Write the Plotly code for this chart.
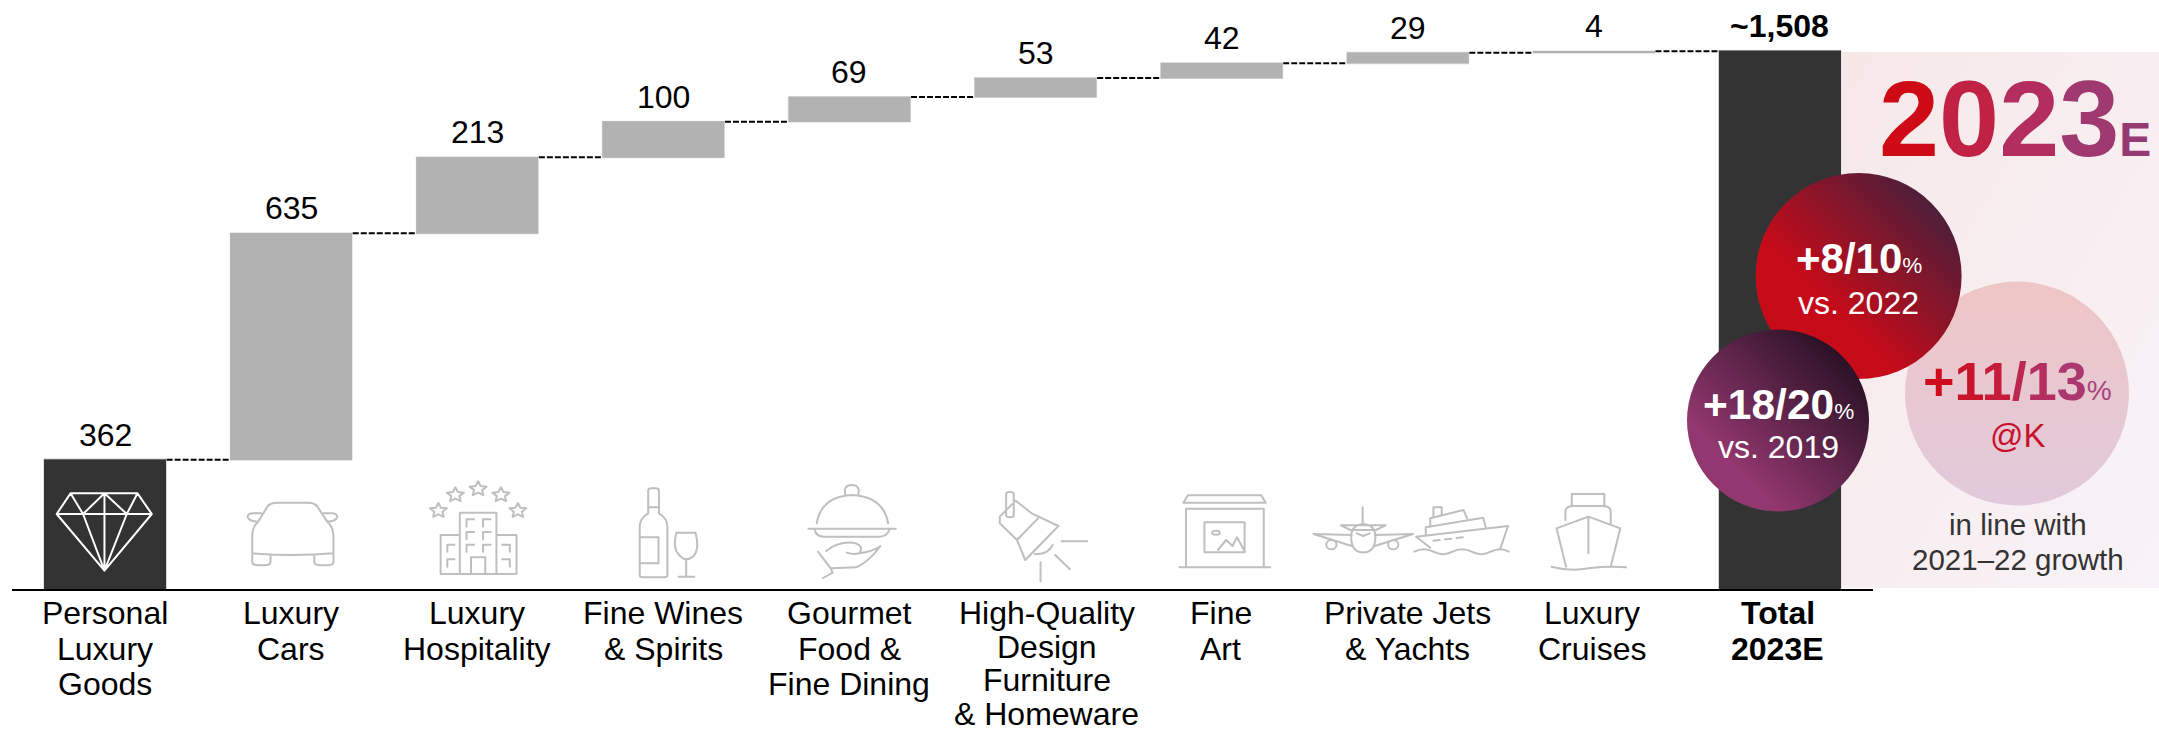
import base64
import math

import numpy as np
import plotly.graph_objects as go

# ---- chart data -----------------------------------------------------------
categories = ["Personal Luxury Goods", "Luxury Cars", "Luxury Hospitality", "Fine Wines & Spirits",
              "Gourmet Food & Fine Dining", "High-Quality Design Furniture & Homeware", "Fine Art",
              "Private Jets & Yachts", "Luxury Cruises", "Total 2023E"]
category_lines = [["Personal", "Luxury", "Goods"], ["Luxury", "Cars"], ["Luxury", "Hospitality"],
                  ["Fine Wines", "& Spirits"], ["Gourmet", "Food &", "Fine Dining"],
                  ["High-Quality", "Design", "Furniture", "& Homeware"], ["Fine", "Art"],
                  ["Private Jets", "& Yachts"], ["Luxury", "Cruises"], ["Total", "2023E"]]
segment_values = [362, 635, 213, 100, 69, 53, 42, 29, 4]
total_value = 1508
label_nudges = [0, 0, 0, 0, 0, 11, -1, 0, -2, -2]

W, H = 2159, 733
BASE = 589
FONT = "Liberation Sans"


def py(y):
    """Page pixel row to paper fraction (the plot area ends at the axis)."""
    return 1 - y / BASE


def px(x):
    return x / W


# ---- decorative artwork: gradient panel, bubbles and category pictograms ---
def star(cx, cy, rx=20, ry=23):
    pts = []
    for i in range(10):
        a = -math.pi / 2 + i * math.pi / 5
        k = 1 if i % 2 == 0 else 0.48
        pts.append(f"{cx + rx * k * math.cos(a):.1f},{cy + ry * k * math.sin(a):.1f}")
    return "M" + " L".join(pts) + " Z"


diamond = ("M158 220 H308 L340 282 L234 452 L127 282 Z M127 282 H340 M158 220 L186 282 M234 220 L186 282 "
           "M234 220 L284 282 M308 220 L284 282 M234 220 V452 M186 282 L234 452 M284 282 L234 452")
car = ("M565 400 V350 Q565 320 578 305 L600 258 Q606 248 620 248 H690 Q704 248 710 258 L733 305 Q747 320 747 350 "
       "V400 Q655 410 565 400 Z M565 405 V425 Q565 436 580 436 H592 Q606 436 606 425 V408 "
       "M704 408 V425 Q704 436 720 436 H732 Q747 436 747 425 V405 "
       "M585 280 H565 Q553 282 555 292 Q558 304 578 305 M725 280 H745 Q757 282 755 292 Q752 304 733 305")
hotel = ("M987 462 H1157 V345 H1112 V278 H1030 V345 H987 Z M1030 345 V462 M1112 345 V462 M1055 462 V412 H1087 V462 "
         "M1045 320 V298 H1062 M1082 320 V298 H1099 M1045 358 V336 H1062 M1082 358 V336 H1099 "
         "M1045 395 V374 H1062 M1082 395 V374 H1099 M1002 395 V374 H1018 M1002 440 V418 H1018 "
         "M1142 395 V374 H1125 M1142 440 V418 H1125 "
         + " ".join(star(*c) for c in [(982, 272), (1020, 225), (1071, 207), (1122, 225), (1160, 272)]))
wine = ("M1452 262 V212 Q1452 205 1460 205 H1468 Q1476 205 1476 212 V262 Z M1452 262 V280 Q1433 295 1433 320 V465 "
        "Q1433 472 1440 472 H1488 Q1495 472 1495 465 V320 Q1495 295 1476 280 V262 "
        "M1433 352 H1475 V430 H1433 "
        "M1515 338 H1558 Q1568 390 1552 410 Q1537 425 1525 410 Q1505 390 1515 338 Z M1537 420 V470 M1520 470 H1555")
cloche = ("M183 310 Q190 230 238 225 Q288 230 295 310 M228 225 Q224 195 238 195 Q252 195 248 225 M170 326 H307 "
          "M180 330 Q182 350 195 350 H280 Q293 350 297 330 M185 395 L205 445 L245 442 Q265 425 283 378 "
          "M198 393 Q215 365 240 368 Q258 375 250 400 Q240 405 230 398 M250 400 Q270 395 283 378 "
          "M205 445 L208 458 L193 474")
lamp = ("M480 222 Q480 216 486 216 Q492 216 492 222 V286 Q492 292 486 292 Q480 292 480 286 Z "
        "M495 242 L470 290 V310 L497 360 L510 420 L562 318 L520 280 Z M530 295 L497 360 "
        "M553 375 Q545 405 525 402 M567 364 H607 M557 405 L580 448 M534 427 V484")
frame = ("M758 248 L765 226 H880 L887 248 Z M762 442 V266 H884 V442 M752 442 H894 M791 307 H854 V397 H791 Z "
         "M812 390 L825 360 L835 378 L842 352 L853 390 M803 338 A6 6 0 1 0 815 338 A6 6 0 1 0 803 338")
jet_yacht = ("M1021 350 Q1021 315 1040 312 Q1059 315 1059 350 Q1059 397 1040 397 Q1021 397 1021 350 Z M1039 262 V312 "
             "M1005 316 H1075 L1060 330 H1020 Z M1030 340 L1040 348 L1050 340 "
             "M1022 345 L962 342 L1022 378 M1058 345 L1118 342 L1058 378 "
             "M982 374 A8 14 0 1 0 998 374 A8 14 0 1 0 982 374 M1079 374 A8 14 0 1 0 1095 374 A8 14 0 1 0 1079 374 "
             "M1123 350 L1267 318 L1255 385 M1123 350 L1145 383 M1138 342 V322 L1228 293 L1232 322 "
             "M1145 320 V295 L1197 270 L1203 295 M1150 290 V262 H1163 V285 "
             "M1150 362 L1160 360 M1168 358 L1178 356 M1186 354 L1196 352 "
             "M1120 395 Q1135 380 1150 395 T1180 395 T1210 395 T1240 395 T1268 395")
cruise = ("M1367 258 V222 H1418 V258 M1357 300 V275 Q1357 258 1370 258 H1415 Q1428 258 1428 275 V310 "
          "M1358 440 L1343 325 L1393 290 L1443 325 L1428 440 M1393 290 V400 "
          "M1335 440 Q1365 455 1393 445 Q1425 438 1452 442")

art = f"""<svg xmlns="http://www.w3.org/2000/svg" width="{W}" height="{H}" viewBox="0 0 {W} {H}">
<defs>
<style>path{{vector-effect:non-scaling-stroke;fill:none;stroke-linejoin:round;stroke-linecap:round}}</style>
<linearGradient id="panel" x1="0" y1="0" x2="1" y2="1"><stop offset="0" stop-color="#F7E8E8"/><stop offset="1" stop-color="#F8F3F8"/></linearGradient>
<linearGradient id="red" x1="0.13" y1="0.87" x2="0.87" y2="0.13"><stop offset="0.3" stop-color="#C70B18"/><stop offset="1" stop-color="#4B1F3A"/></linearGradient>
<linearGradient id="plum" x1="0.15" y1="0.85" x2="0.85" y2="0.15"><stop offset="0.15" stop-color="#92376F"/><stop offset="1" stop-color="#2B1226"/></linearGradient>
<linearGradient id="rose" x1="0" y1="0" x2="0" y2="1"><stop offset="0" stop-color="#EFC6C6"/><stop offset="1" stop-color="#E1CADB"/></linearGradient>
</defs>
<rect x="1842" y="52" width="317" height="536" fill="url(#panel)"/>
<circle cx="2017" cy="393.5" r="112" fill="url(#rose)"/>
<circle cx="1858.6" cy="276" r="103" fill="url(#red)"/>
<circle cx="1778" cy="420.5" r="91" fill="url(#plum)"/>
<g transform="translate(0,420) scale(0.44643,0.33333)">
<path d="{diamond}" stroke="#FFFFFF" stroke-width="2"/>
<path d="{car} {hotel} {wine}" stroke="#BFBFBF" stroke-width="2"/>
</g>
<g transform="translate(700,420) scale(0.63776,0.33333)">
<path d="{cloche} {lamp} {frame} {jet_yacht} {cruise}" stroke="#BFBFBF" stroke-width="2"/>
</g>
</svg>"""
art_uri = "data:image/svg+xml;base64," + base64.b64encode(art.encode()).decode()

# ---- waterfall ------------------------------------------------------------
values = segment_values + [total_value]
measures = ["absolute"] + ["relative"] * (len(segment_values) - 1) + ["absolute"]

edge = dict(color="#FFFFFF", width=0.8)
fig = go.Figure(go.Waterfall(
    x=categories, y=values, measure=measures,
    increasing=dict(marker=dict(color="#B2B2B2", line=edge)),
    decreasing=dict(marker=dict(color="#B2B2B2", line=edge)),
    totals=dict(marker=dict(color="#333333", line=edge)),
    connector=dict(mode="between", line=dict(color="#000000", width=2, dash="6px,2px")),
    textinfo="none", hoverinfo="skip",
))

annotations = []


def note(x, y, text, size, color="#000000"):
    annotations.append(dict(xref="paper", yref="paper", x=px(x), y=py(y), text=text, showarrow=False,
                            xanchor="center", yanchor="middle",
                            font=dict(family=FONT, size=size, color=color)))


# Value labels sit a fixed distance above each bar's top.
tops = list(np.cumsum(segment_values)) + [total_value]
value_text = [str(v) for v in segment_values] + [f"<b>~{total_value:,}</b>"]
for cat, top, txt in zip(categories, tops, value_text):
    annotations.append(dict(xref="x", yref="y", x=cat, y=float(top), text=txt, showarrow=False,
                            yanchor="bottom", yshift=5, font=dict(family=FONT, size=32, color="#000000")))

# Category names, one annotation per line for a tight line pitch; the four-line
# label runs a little tighter so it stays on the page.
for i, (cat, lines) in enumerate(zip(categories, category_lines)):
    pitch = 33.6 if len(lines) == 4 else 35.7
    for j, line in enumerate(lines):
        t = f"<b>{line}</b>" if i == len(categories) - 1 else line
        annotations.append(dict(xref="x", yref="paper", x=cat, xshift=label_nudges[i], y=py(613 + pitch * j),
                                text=t, showarrow=False, yanchor="middle",
                                font=dict(family=FONT, size=32, color="#000000")))


def spans(chars, colors, bold=True):
    body = "".join(f'<span style="color:{c}">{ch}</span>' for ch, c in zip(chars, colors))
    return f"<b>{body}</b>" if bold else body


# Panel heading with a red-to-plum colour run.
note(2015, 118,
     spans("2023", ["#CE0A17", "#C12143", "#B32E5E", "#A0396F"])
     + '<b><span style="font-size:48px;color:#963A74">E</span></b>',
     108)

# Bubble captions.
pct = lambda s, c: f'<span style="font-size:{s}px;color:{c}">%</span>'
note(1859, 258, f"<b>+8/10</b>{pct(22.5, '#FFFFFF')}", 42, "#FFFFFF")
note(1859, 303, "vs. 2022", 32, "#FFFFFF")
note(1778, 404, f"<b>+18/20</b>{pct(22.5, '#FFFFFF')}", 42.5, "#FFFFFF")
note(1778, 447, "vs. 2019", 32, "#FFFFFF")
note(2017.5, 381,
     spans("+11/13", ["#CE0A1C", "#C9142C", "#C41C3A", "#BC2850", "#B42F60", "#AB386E"]) + pct(28, "#A8447C"),
     54)
note(2018, 435, "@K", 33, "#C8102E")
note(2017.5, 524, "in line with", 29.5, "#333333")
note(2017.5, 559, "2021–22 growth", 29.5, "#333333")

fig.update_layout(
    width=W, height=H, margin=dict(l=0, r=0, t=0, b=H - BASE, pad=0),
    paper_bgcolor="#FFFFFF", plot_bgcolor="rgba(0,0,0,0)", showlegend=False, waterfallgap=0.338,
    xaxis=dict(domain=[px(12), px(1873)], range=[-0.5, 9.5], type="category", categoryorder="array",
               categoryarray=categories, showticklabels=False, ticks="", showgrid=False, zeroline=False,
               showline=True, linecolor="#000000", linewidth=2),
    yaxis=dict(range=[0, BASE / (538 / total_value)], visible=False, showgrid=False, zeroline=False),
    annotations=annotations,
    images=[dict(source=art_uri, xref="paper", yref="paper", x=0, y=1, sizex=1, sizey=H / BASE,
                 xanchor="left", yanchor="top", sizing="stretch", layer="above")],
)

fig.write_html("out.html")
